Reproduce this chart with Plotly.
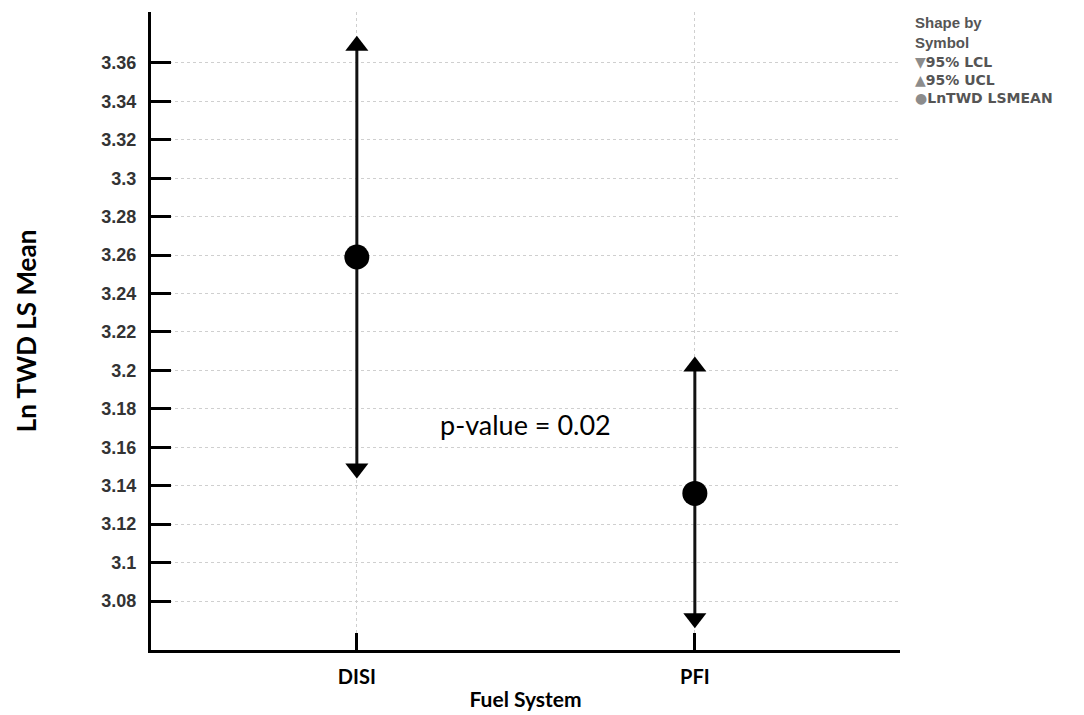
import plotly.graph_objects as go

categories = ["DISI", "PFI"]
lsmean = [3.259, 3.136]
lcl = [3.149, 3.071]
ucl = [3.369, 3.202]
ytick_vals = [3.08, 3.10, 3.12, 3.14, 3.16, 3.18, 3.20, 3.22, 3.24, 3.26, 3.28, 3.30, 3.32, 3.34, 3.36]
ytick_text = ["3.08", "3.1", "3.12", "3.14", "3.16", "3.18", "3.2", "3.22", "3.24", "3.26", "3.28", "3.3", "3.32", "3.34", "3.36"]
legend_names = ["95% LCL", "95% UCL", "LnTWD LSMEAN"]
legend_glyphs = ["\u25BC", "\u25B2", "\u25CF"]

fig = go.Figure()

# interval lines
for i, c in enumerate(categories):
    fig.add_trace(go.Scatter(x=[i, i], y=[lcl[i], ucl[i]], mode="lines",
                             line=dict(color="#111111", width=3), showlegend=False, hoverinfo="skip"))

xs = list(range(len(categories)))
fig.add_trace(go.Scatter(x=xs, y=lcl, mode="markers", name="95% LCL", showlegend=False,
                         marker=dict(symbol="triangle-down", size=20, color="black")))
fig.add_trace(go.Scatter(x=xs, y=ucl, mode="markers", name="95% UCL", showlegend=False,
                         marker=dict(symbol="triangle-up", size=20, color="black")))
fig.add_trace(go.Scatter(x=xs, y=lsmean, mode="markers", name="LnTWD LSMEAN", showlegend=False,
                         marker=dict(symbol="circle", size=25, color="black")))

fig.add_annotation(x=0.5, y=3.172, xref="x", yref="y", text="p-value = 0.02", showarrow=False,
                   font=dict(family="Lato, Open Sans, sans-serif", size=27, color="black"))

# legend block (top right)
fig.add_annotation(x=1.0174, y=1.0, xref="paper", yref="paper", xanchor="left", yanchor="top",
                   text="<b>Shape by<br>Symbol</b>", showarrow=False, align="left",
                   font=dict(family="Liberation Sans, Arial, sans-serif", size=15, color="#555555"))
items = "<br>".join(f"<span style='color:#8c8c8c'>{g}</span><b>{n}</b>"
                    for g, n in zip(legend_glyphs, legend_names))
fig.add_annotation(x=1.0174, y=1.0 - 40 / 638, xref="paper", yref="paper",
                   xanchor="left", yanchor="top", showarrow=False, align="left",
                   text=items,
                   font=dict(family="DejaVu Sans, Liberation Sans, sans-serif", size=14, color="#555555"))

fig.update_layout(
    width=1084, height=715,
    paper_bgcolor="white", plot_bgcolor="white",
    margin=dict(l=151, r=184, t=12, b=65, autoexpand=False),
    font=dict(family="Liberation Sans, Arial, sans-serif", color="#333333"),
    showlegend=False,
)

fig.update_xaxes(
    range=[-0.609, 1.607], automargin=False,
    tickmode="array", tickvals=xs, ticktext=[f"<b>{c}</b>" for c in categories],
    tickfont=dict(family="Lato, Open Sans, sans-serif", size=20, color="black"),
    ticks="inside", ticklen=17, tickwidth=3, tickcolor="black",
    showline=True, linewidth=3, linecolor="black",
    showgrid=True, gridcolor="#cfcfcf", griddash="dot", gridwidth=1,
    zeroline=False,
    title=dict(text="<b>Fuel System</b>", font=dict(family="Lato, Open Sans, sans-serif", size=21, color="black"), standoff=6),
    ticklabelstandoff=7,
)

fig.update_yaxes(
    range=[3.0545, 3.3865], automargin=False,
    tickmode="array", tickvals=ytick_vals, ticktext=[f"<b>{t}</b>" for t in ytick_text],
    tickfont=dict(family="Liberation Sans, Arial, sans-serif", size=18, color="#333333"),
    ticks="inside", ticklen=20, tickwidth=3, tickcolor="black",
    showline=True, linewidth=3, linecolor="black",
    showgrid=True, gridcolor="#cfcfcf", griddash="dot", gridwidth=1,
    zeroline=False,
    title=dict(text="<b>Ln TWD LS Mean</b>", font=dict(family="Lato, Open Sans, sans-serif", size=26, color="black"), standoff=58),
    ticklabelstandoff=8,
)

fig.write_html("out.html")
